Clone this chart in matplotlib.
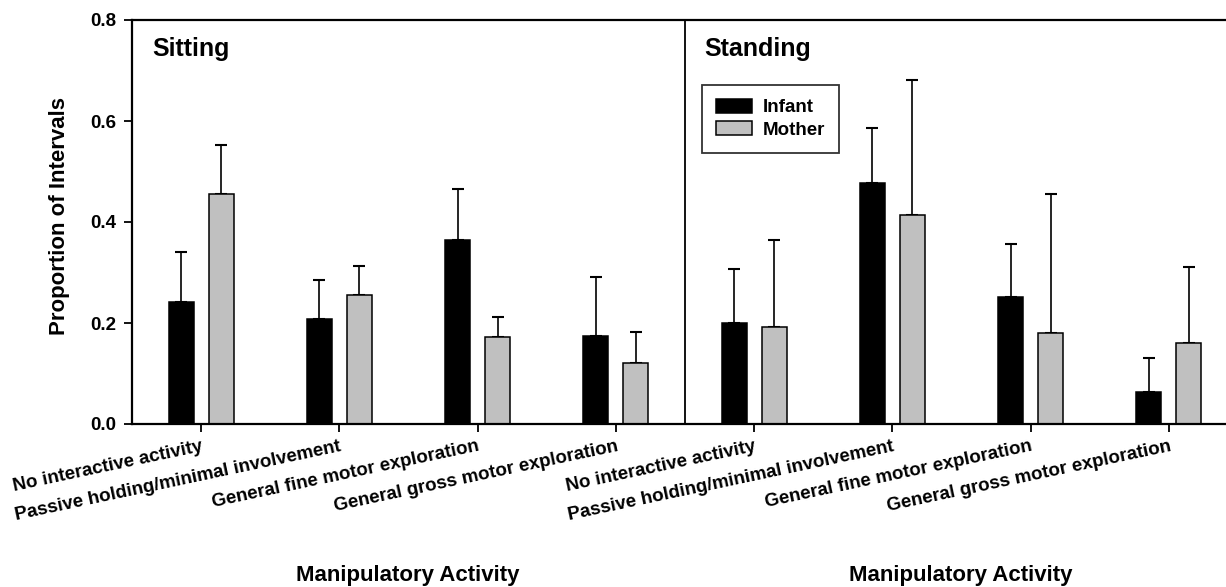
import matplotlib
matplotlib.use("Agg")
import matplotlib.pyplot as plt
import numpy as np

plt.rcParams['font.family'] = ['Liberation Sans', 'DejaVu Sans']
plt.rcParams['font.weight'] = 'bold'

categories = ["No interactive activity",
              "Passive holding/minimal involvement",
              "General fine motor exploration",
              "General gross motor exploration"]
tick_labels = categories + categories

# sitting (4) then standing (4)
infant_mean = [0.242, 0.207, 0.365, 0.175, 0.200, 0.478, 0.252, 0.064]
infant_err = [0.099, 0.079, 0.101, 0.117, 0.106, 0.108, 0.105, 0.067]
mother_mean = [0.455, 0.255, 0.172, 0.120, 0.193, 0.414, 0.181, 0.160]
mother_err = [0.097, 0.057, 0.040, 0.062, 0.171, 0.268, 0.274, 0.151]

panel_titles = ["Sitting", "Standing"]

W, H = 1226, 587
fig = plt.figure(figsize=(W / 100, H / 100), dpi=100)
ax = fig.add_axes([132 / W, (H - 424) / H, (1238 - 132) / W, (424 - 20) / H])

x = np.arange(len(tick_labels))
bw = 0.18
off = 0.145
ax.bar(x - off, infant_mean, bw, color='black', edgecolor='black', lw=1.1,
       label='Infant', zorder=2)
ax.bar(x + off, mother_mean, bw, color='#c0c0c0', edgecolor='black', lw=1.1,
       label='Mother', zorder=2)
ax.errorbar(x - off, infant_mean, yerr=[np.zeros(len(x)), infant_err], fmt='none',
            ecolor='black', elinewidth=1.2, capsize=4.5, capthick=1.5, zorder=1)
ax.errorbar(x + off, mother_mean, yerr=[np.zeros(len(x)), mother_err], fmt='none',
            ecolor='black', elinewidth=1.2, capsize=4.5, capthick=1.5, zorder=1)

# divider between the two panels
ax.axvline(3.5, color='black', lw=1.3)

ax.set_xlim(-0.5, 7.5)
ax.set_ylim(0, 0.8)
ax.set_yticks([0.0, 0.2, 0.4, 0.6, 0.8])
ax.set_yticklabels(["0.0", "0.2", "0.4", "0.6", "0.8"], fontsize=13.5, fontweight='bold')
ax.set_xticks(x)
ax.set_xticklabels(tick_labels, rotation=12, ha='right', va='top',
                   rotation_mode='anchor', fontsize=13.5, fontweight='bold')
ax.tick_params(axis='both', direction='out', length=6, width=1.3)
ax.tick_params(axis='x', pad=4)
ax.tick_params(axis='y', pad=5)
for s in ['left', 'top', 'bottom']:
    ax.spines[s].set_linewidth(1.6)
ax.spines['right'].set_visible(False)

fig.text(60 / W, (H - 216) / H, "Proportion of Intervals", rotation=90,
         fontsize=16, fontweight='bold', ha='center', va='center')

ax.text(152 / W, (H - 56) / H, panel_titles[0], transform=fig.transFigure,
        fontsize=18, fontweight='bold', ha='left', va='baseline')
ax.text(704 / W, (H - 56) / H, panel_titles[1], transform=fig.transFigure,
        fontsize=18, fontweight='bold', ha='left', va='baseline')

fig.text(408 / W, (H - 575) / H, "Manipulatory Activity", fontsize=16,
         fontweight='bold', ha='center', va='center')
fig.text(961 / W, (H - 575) / H, "Manipulatory Activity", fontsize=16,
         fontweight='bold', ha='center', va='center')

leg = ax.legend(loc='upper left', bbox_to_anchor=((702 - 132) / (1238 - 132), (424 - 85) / 404),
                borderaxespad=0, fontsize=13.5, frameon=True, fancybox=False,
                edgecolor='black', handlelength=1.9, handleheight=0.75, borderpad=0.75,
                labelspacing=0.25, handletextpad=0.6)
leg.get_frame().set_linewidth(1.3)
for t in leg.get_texts():
    t.set_fontweight('bold')

fig.savefig("out.png", dpi=100)
